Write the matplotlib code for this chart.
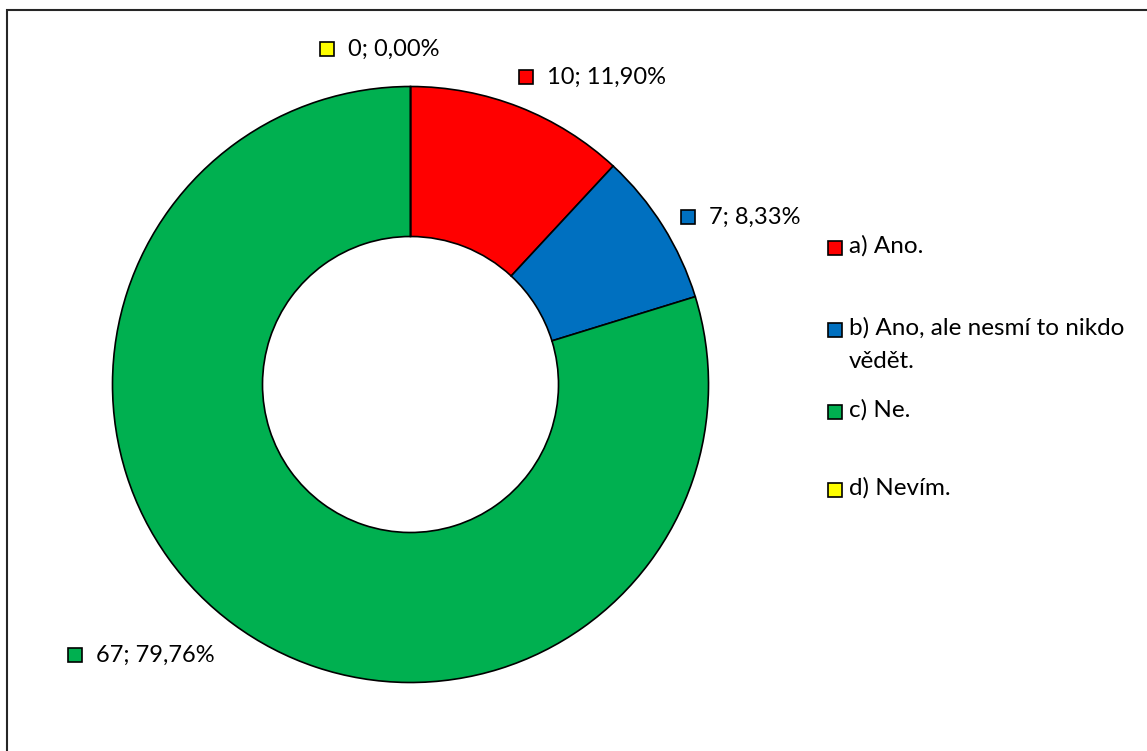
import matplotlib
matplotlib.use("Agg")
import matplotlib.pyplot as plt
from matplotlib.patches import Rectangle

# data
categories = ["a) Ano.", "b) Ano, ale nesmí to nikdo\nvědět.", "c) Ne.", "d) Nevím."]
counts = [10, 7, 67, 0]
percents = ["11,90%", "8,33%", "79,76%", "0,00%"]
colors = ["#FF0000", "#0070C0", "#00B050", "#FFFF00"]

plt.rcParams["font.family"] = ["Lato", "DejaVu Sans"]

W, H = 1147, 751
fig = plt.figure(figsize=(W / 100, H / 100), dpi=100)
ax = fig.add_axes([0, 0, 1, 1])
ax.set_xlim(0, W)
ax.set_ylim(0, H)
ax.set_aspect("equal")
ax.axis("off")


def py(y):
    # pixel row from top -> data y
    return H - y


# donut
ax.pie(counts, colors=colors, startangle=90, counterclock=False,
       center=(410.5, py(384.5)), radius=298,
       wedgeprops=dict(width=150, edgecolor="black", linewidth=1.2))
ax.set_xlim(0, W)
ax.set_ylim(0, H)

# data labels (layout positions)
label_pos = {0: (526, 77), 1: (688, 217), 2: (75, 655), 3: (327, 49)}
for i, (x, y) in label_pos.items():
    ax.plot(x, py(y), marker="s", markersize=10.5, markerfacecolor=colors[i],
            markeredgecolor="black", markeredgewidth=1.2)
    ax.text(x + 21, py(y), f"{counts[i]}; {percents[i]}", fontsize=17,
            va="center", ha="left", color="black")

# legend
leg_y = [248, 330, 412, 490]
for i, lab in enumerate(categories):
    ax.plot(835, py(leg_y[i]), marker="s", markersize=10.5,
            markerfacecolor=colors[i], markeredgecolor="black",
            markeredgewidth=1.2)
    ax.text(849, py(leg_y[i]) + 12.5, lab, fontsize=17.5, va="top", ha="left",
            color="black", linespacing=1.7)

# chart border (right and bottom edges fall outside the picture)
ax.add_patch(Rectangle((7, py(760)), 1160, 750, fill=False,
                       edgecolor="#262626", linewidth=1.5, clip_on=False))

fig.savefig("out.png", dpi=100)
